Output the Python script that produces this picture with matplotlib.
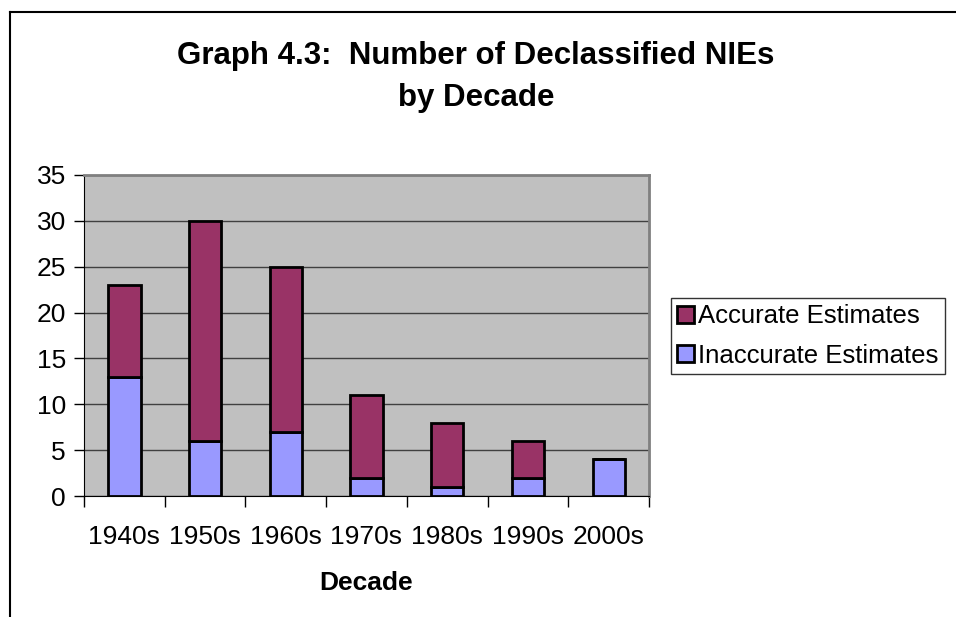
import matplotlib
matplotlib.use("Agg")
import matplotlib.pyplot as plt
from matplotlib.lines import Line2D
import numpy as np

plt.rcParams['font.family'] = ['Liberation Sans', 'DejaVu Sans']

decades = ["1940s", "1950s", "1960s", "1970s", "1980s", "1990s", "2000s"]
inaccurate = [13, 6, 7, 2, 1, 2, 4]
accurate = [10, 24, 18, 9, 7, 4, 0]

W, H = 956, 617
fig = plt.figure(figsize=(W / 100, H / 100), dpi=100)
ax = fig.add_axes([84 / W, 1 - 496 / H, (649 - 84) / W, (496 - 175) / H])
ax.set_facecolor("#C0C0C0")

x = np.arange(len(decades))
ax.bar(x, inaccurate, width=0.4, color="#9999FF", edgecolor="black", linewidth=2,
       label="Inaccurate Estimates", zorder=3)
ax.bar(x, accurate, width=0.4, bottom=inaccurate, color="#993366", edgecolor="black",
       linewidth=2, label="Accurate Estimates", zorder=3)

ax.set_xlim(-0.5, len(decades) - 0.5)
ax.set_ylim(0, 35)
ax.set_yticks(range(0, 36, 5))
ax.yaxis.grid(True, color="#404040", linewidth=1, zorder=1)
ax.set_xticks(np.arange(-0.5, len(decades), 1))
ax.set_xticklabels([])
ax.set_xticks(x, minor=True)
ax.set_xticklabels(decades, minor=True, fontsize=19)
ax.tick_params(axis="x", which="minor", length=0, pad=21)
ax.tick_params(axis="x", which="major", length=8, width=1, direction="out")
ax.tick_params(axis="y", length=7, width=1, labelsize=19, pad=6)

for side in ["top", "right"]:
    ax.spines[side].set_color("#808080")
    ax.spines[side].set_linewidth(2)
ax.spines["left"].set_color("black")
ax.spines["bottom"].set_color("black")

ax.set_xlabel("Decade", fontsize=19, fontweight="bold", labelpad=16)

fig.text(476 / W, 1 - 77 / H, "Graph 4.3:  Number of Declassified NIEs\nby Decade",
         ha="center", va="center", fontsize=22.5, fontweight="bold", linespacing=1.55)

handles, labels = ax.get_legend_handles_labels()
leg = fig.legend(handles[::-1], labels[::-1], loc="center left",
                 bbox_to_anchor=(671 / W, 1 - 336 / H), fontsize=18.5,
                 frameon=True, fancybox=False, edgecolor="black",
                 handlelength=0.65, handleheight=0.65, handletextpad=0.15,
                 borderpad=0.25, labelspacing=0.6, borderaxespad=0)
leg.get_frame().set_linewidth(1)

# outer chart border (cropped)
fig.add_artist(Line2D([10 / W, 1], [1 - 12 / H, 1 - 12 / H], color="black", lw=1.5))
fig.add_artist(Line2D([10 / W, 10 / W], [0, 1 - 12 / H], color="black", lw=1.5))

fig.savefig("out.png", dpi=100)
